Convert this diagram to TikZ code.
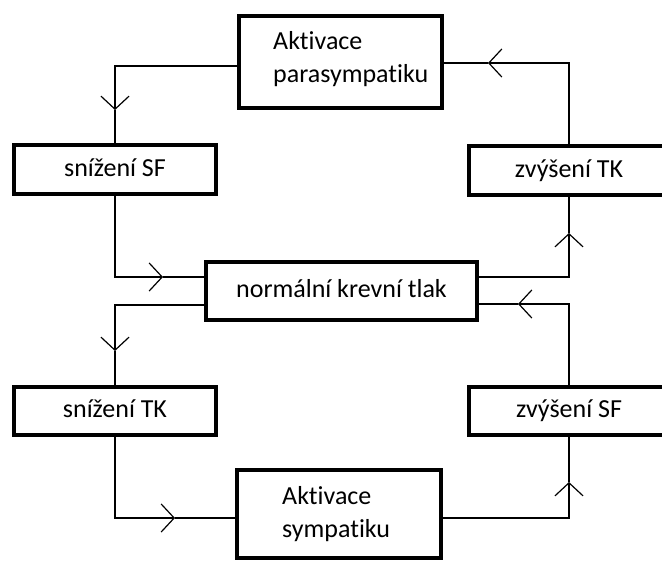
\documentclass[tikz,border=0pt]{standalone}
\usepackage{fontspec}
\setmainfont{Carlito}[Ligatures=NoCommon]
\usetikzlibrary{arrows.meta}
\begin{document}
\begin{tikzpicture}[x=1pt,y=-1pt,
  box/.style={draw=black,line width=4pt,fill=white,inner sep=0pt,
    text height=19pt,text depth=6pt,font=\fontsize{26}{33}\selectfont},
  txt/.style={inner sep=0pt,align=left,font=\fontsize{26}{32.5}\selectfont},
  conn/.style={draw=black,line width=1.2pt},
  tip/.style={-{Straight Barb[length=13pt,width=28pt]}}]
\useasboundingbox (0,0) rectangle (662,563);
\clip (0,0) rectangle (662,563);
% boxes
\node[box,minimum width=203pt,minimum height=92pt] (ps) at (340.5,62) {};
\node[txt,anchor=base west] (pst) at (273,82) {Aktivace\\parasympatiku};
\node[box,minimum width=202pt,minimum height=49pt] (ssf) at (115,169.5) {snížení SF};
\node[box,minimum width=200pt,minimum height=49pt] (ztk) at (569,170.5) {zvýšení TK};
\node[box,minimum width=271pt,minimum height=58pt] (nkt) at (341.5,291) {normální krevní tlak};
\node[box,minimum width=202pt,minimum height=48pt] (stk) at (115,411) {snížení TK};
\node[box,minimum width=200pt,minimum height=48pt] (zsf) at (569,411) {zvýšení SF};
\node[box,minimum width=204pt,minimum height=88pt] (sy) at (339,514) {};
\node[txt,anchor=base west] (syt) at (282,537) {Aktivace\\sympatiku};
% arrow points
\coordinate (a1) at (115,110);
\coordinate (a2) at (163,277);
\coordinate (a3) at (115,351);
\coordinate (a4) at (175,518);
\coordinate (a5) at (569,482);
\coordinate (a6) at (518,304);
\coordinate (a7) at (569,233);
\coordinate (a8) at (488,63);
% connectors
\draw[conn,tip] (ps.west |- 0,66) -| (a1);
\draw[conn] (a1) -- (ssf.north);
\draw[conn,tip] (ssf.south) |- (a2);
\draw[conn] (a2) -- (nkt.west |- a2);
\draw[conn,tip] (nkt.west |- 0,305) -| (a3);
\draw[conn] (a3) -- (stk.north);
\draw[conn,tip] (stk.south) |- (a4);
\draw[conn] (a4) -- (sy.west |- a4);
\draw[conn,tip] (sy.east |- 0,518) -| (a5);
\draw[conn] (a5) -- (zsf.south);
\draw[conn,tip] (zsf.north) |- (a6);
\draw[conn] (a6) -- (nkt.east |- a6);
\draw[conn,tip] (nkt.east |- 0,277) -| (a7);
\draw[conn] (a7) -- (ztk.south);
\draw[conn,tip] (ztk.north) |- (a8);
\draw[conn] (a8) -- (ps.east |- a8);
\end{tikzpicture}
\end{document}
